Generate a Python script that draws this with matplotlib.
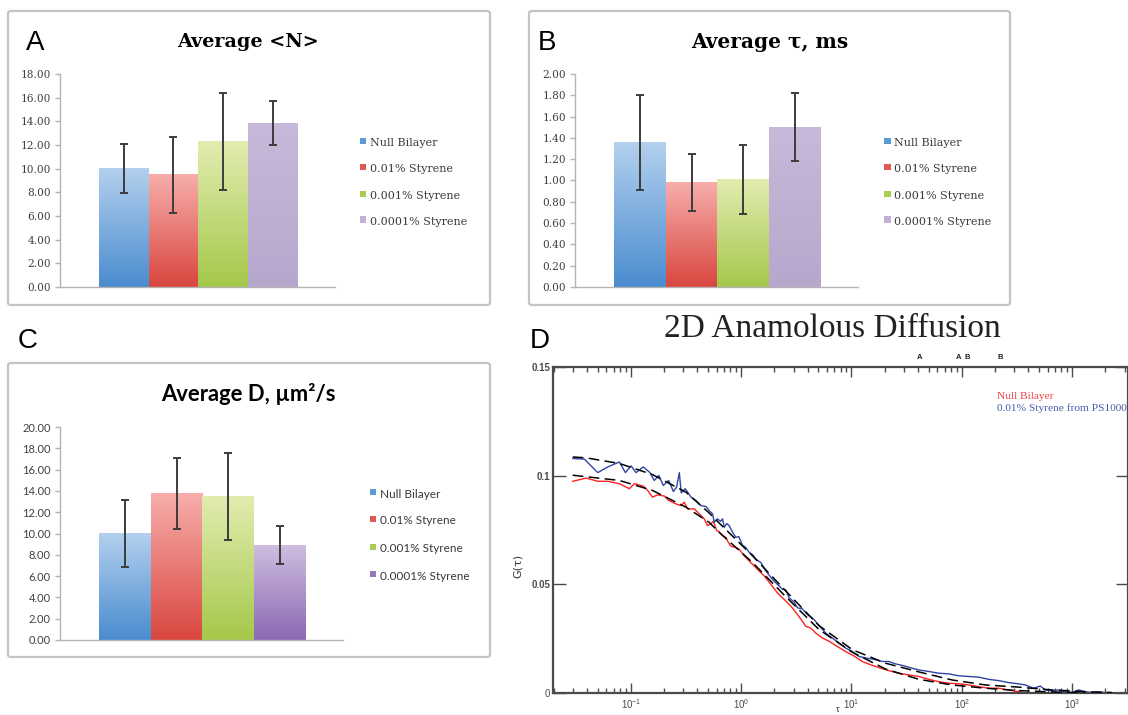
import numpy as np
import matplotlib
matplotlib.use('Agg')
import matplotlib.pyplot as plt
from matplotlib.colors import LinearSegmentedColormap
from matplotlib.patches import Rectangle, FancyBboxPatch
from matplotlib.transforms import blended_transform_factory
from matplotlib.ticker import FixedLocator, LogLocator, NullFormatter, FormatStrFormatter

W, H = 1128, 715

# ---------------- data ----------------
groups = ['Null Bilayer', '0.01% Styrene', '0.001% Styrene', '0.0001% Styrene']
N_mean = [10.0, 9.48, 12.3, 13.85]
N_err = [2.05, 3.2, 4.1, 1.85]
tau_mean = [1.36, 0.98, 1.01, 1.50]
tau_err = [0.445, 0.265, 0.325, 0.32]
D_mean = [10.0, 13.75, 13.45, 8.9]
D_err = [3.1, 3.3, 4.1, 1.8]

blue_tau = [0.0297, 0.0379, 0.0501, 0.0617, 0.0787, 0.0892, 0.1004, 0.1114, 0.1297, 0.149,
            0.163, 0.179, 0.197, 0.220, 0.243, 0.260, 0.275, 0.286, 0.311, 0.351,
            0.389, 0.432, 0.480, 0.513, 0.550, 0.570, 0.611, 0.650, 0.678, 0.702,
            0.740, 0.778, 0.834, 0.895, 0.950, 1.028, 1.10, 1.181, 1.27, 1.358,
            1.507, 1.672, 1.92, 2.13, 2.37, 2.54, 2.72, 3.0, 3.24, 3.59,
            3.98, 4.58, 5.08, 5.84, 6.70, 7.71, 8.85, 10.2, 11.7, 13.9,
            16.6, 19.0, 21.8, 25.1, 29.9, 35.5, 40.8, 50.3, 61.9, 76.3,
            94, 116, 142, 175, 216, 266, 328, 377, 448, 515,
            571, 657, 755, 867, 996, 1145, 1316, 1511, 1738, 1995, 2460]
blue_G = [0.1079, 0.1076, 0.1014, 0.1040, 0.1063, 0.1014, 0.1045, 0.1014, 0.1040, 0.1014,
          0.0978, 0.1001, 0.0955, 0.0978, 0.0927, 0.0948, 0.1014, 0.0921, 0.0940, 0.0901,
          0.0886, 0.0862, 0.0858, 0.0839, 0.0824, 0.0786, 0.0801, 0.0790, 0.0801, 0.0762,
          0.0780, 0.0770, 0.0740, 0.0716, 0.0720, 0.0680, 0.0670, 0.0647, 0.0636, 0.0616,
          0.0600, 0.0562, 0.0523, 0.0500, 0.0477, 0.0474, 0.0438, 0.0420, 0.0392, 0.0387,
          0.0361, 0.0338, 0.0310, 0.0276, 0.0253, 0.0230, 0.0207, 0.0191, 0.0168, 0.0160,
          0.0153, 0.0145, 0.0145, 0.0134, 0.0125, 0.0114, 0.0106, 0.0099, 0.0091, 0.0088,
          0.0079, 0.0076, 0.0073, 0.0063, 0.0057, 0.0048, 0.0042, 0.0037, 0.0022, 0.0032,
          0.0014, 0.0011, 0.0014, 0.0006, 0.0002, 0.0014, 0.0006, 0.0002, 0.0005, 0.0002, 0.0000]

red_tau = [0.0297, 0.0393, 0.0501, 0.0617, 0.0787, 0.0969, 0.1076, 0.1297, 0.142, 0.157,
           0.175, 0.201, 0.220, 0.256, 0.285, 0.305, 0.327, 0.376, 0.417, 0.463,
           0.495, 0.530, 0.560, 0.600, 0.632, 0.678, 0.727, 0.752, 0.807, 0.895,
           0.959, 1.064, 1.224, 1.406, 1.615, 1.856, 2.13, 2.45, 2.82, 3.24,
           3.59, 3.85, 4.27, 4.74, 5.45, 6.26, 7.44, 8.85, 10.5, 12.5,
           14.9, 17.7, 21.8, 26.9, 33.1, 40.8, 50.3, 61.9, 76.3, 94,
           116, 142, 175, 216, 266, 328, 377, 448, 571, 755, 900, 1100]
red_G = [0.0974, 0.0989, 0.0974, 0.0974, 0.0963, 0.0940, 0.0963, 0.0952, 0.0932, 0.0901,
         0.0912, 0.0906, 0.0886, 0.0870, 0.0862, 0.0878, 0.0847, 0.0847, 0.0824, 0.0801,
         0.0770, 0.0778, 0.0790, 0.0747, 0.0742, 0.0724, 0.0716, 0.0700, 0.0675, 0.0670,
         0.0662, 0.0631, 0.0600, 0.0569, 0.0539, 0.0500, 0.0461, 0.0431, 0.0400, 0.0361,
         0.0330, 0.0307, 0.0299, 0.0276, 0.0253, 0.0238, 0.0214, 0.0191, 0.0171, 0.0145,
         0.0130, 0.0117, 0.0103, 0.0091, 0.0083, 0.0076, 0.0063, 0.0052, 0.0045, 0.0042,
         0.0037, 0.0029, 0.0022, 0.0022, 0.0014, 0.0006, 0.0000, 0.0000, 0.0000, -0.0003, 0.0002, 0.0000]

fitB_tau = [0.0297, 0.0393, 0.0787, 0.157, 0.316, 0.513, 0.632, 1.27, 2.54, 5.08,
            10.2, 20.4, 40.8, 81.7, 164, 328, 657, 1316, 2290]
fitB_G = [0.1086, 0.1082, 0.1056, 0.1005, 0.0924, 0.0828, 0.0782, 0.0631, 0.0469, 0.0310,
          0.0199, 0.0137, 0.0097, 0.0060, 0.0037, 0.0027, 0.0014, 0.0006, 0.0002]
fitR_tau = [0.0297, 0.0787, 0.157, 0.316, 0.513, 0.632, 1.27, 2.54, 5.08, 10.2,
            20.4, 40.8, 81.7, 164, 328, 657, 1316]
fitR_G = [0.1002, 0.0978, 0.0932, 0.0855, 0.0785, 0.0739, 0.0600, 0.0443, 0.0292, 0.0187,
          0.0110, 0.0063, 0.0037, 0.0022, 0.0011, 0.0005, 0.0000]

annot_tau = [41.7, 94, 111, 221]
annot_txt = ['A', 'A', 'B', 'B']

# ---------------- helpers ----------------
def axrect(l, t, r, b):
    return [l / W, 1 - b / H, (r - l) / W, (b - t) / H]

def fx(px):
    return px / W

def fy(py):
    return 1 - py / H

fig = plt.figure(figsize=(W / 100, H / 100), dpi=100)
fig.patch.set_facecolor('white')

def box(l, t, r, b):
    p = FancyBboxPatch((fx(l), fy(b)), (r - l) / W, (b - t) / H,
                       boxstyle='round,pad=0,rounding_size=0.003',
                       transform=fig.transFigure, facecolor='none',
                       edgecolor='#c4c4c4', linewidth=1.6, zorder=-5)
    fig.patches.append(p)

grads_ab = [('#4a8ccf', '#b3d0ee'), ('#d9463f', '#f7aeab'),
            ('#a4c84a', '#e2ecb0'), ('#b8a7cd', '#c7b9d9')]
grads_c = [('#4a8ccf', '#b3d0ee'), ('#d9463f', '#f7aeab'),
           ('#a4c84a', '#e2ecb0'), ('#8a69b3', '#cfbde0')]
leg_ab = ['#5b9bd5', '#e2574f', '#a9cc51', '#bfb0d4']
leg_c = ['#5b9bd5', '#e2574f', '#a9cc51', '#9677bf']

def bar_panel(rect, means, errs, ymax, ystep, xl, grads, tickfont, ticksize):
    ax = fig.add_axes(axrect(*rect))
    x = np.arange(len(means))
    bars = ax.bar(x, means, width=1.0, color=[g[0] for g in grads], zorder=1)
    grad = np.linspace(0, 1, 256).reshape(-1, 1)
    for p, (c0, c1) in zip(bars, grads):
        cmap = LinearSegmentedColormap.from_list('g', [c0, c1])
        ax.imshow(grad, extent=(p.get_x(), p.get_x() + p.get_width(), 0, p.get_height()),
                  origin='lower', aspect='auto', cmap=cmap, zorder=2)
    ax.errorbar(x, means, yerr=errs, fmt='none', ecolor='#3c3c3c', elinewidth=1.4,
                capsize=3.2, capthick=1.4, zorder=3)
    ax.set_xlim(*xl)
    ax.set_ylim(0, ymax)
    ax.set_yticks(np.arange(0, ymax + ystep / 2, ystep))
    ax.yaxis.set_major_formatter(FormatStrFormatter('%.2f'))
    ax.set_xticks([])
    for s in ['top', 'right']:
        ax.spines[s].set_visible(False)
    for s in ['left', 'bottom']:
        ax.spines[s].set_color('#b4b4b4')
        ax.spines[s].set_linewidth(1.0)
    ax.tick_params(axis='y', length=3.5, width=1.0, color='#b4b4b4', labelcolor='#404040',
                   labelsize=ticksize, pad=3)
    for lab in ax.get_yticklabels():
        lab.set_family(tickfont)
    ax.set_facecolor('none')
    return ax

def legend(x_sq, x_txt, ys, colors, font, size):
    for lab, c, y in zip(groups, colors, ys):
        fig.patches.append(Rectangle((fx(x_sq), fy(y + 1)), 6.5 / W, 6.5 / H,
                                     transform=fig.transFigure, facecolor=c,
                                     edgecolor='none', zorder=5))
        fig.text(fx(x_txt), fy(y), lab, ha='left', va='center', family=font,
                 size=size, color='#3a3a3a')

# ---------------- panel boxes ----------------
box(8, 11, 490, 305)
box(529, 11, 1010, 305)
box(8, 363, 490, 657)

# ---------------- Panel A ----------------
bar_panel((60, 74, 335, 287), N_mean, N_err, 18, 2, (-1.28, 4.25), grads_ab,
          'DejaVu Serif', 7.6)
fig.text(fx(248), fy(42), 'Average <N>', ha='center', va='center',
         family='DejaVu Serif', weight='bold', size=13.8)
legend(360, 370, [143, 169, 196, 222], leg_ab, 'DejaVu Serif', 8)
fig.text(fx(35), fy(43), 'A', ha='center', va='center', family='Liberation Sans', size=20)

# ---------------- Panel B ----------------
bar_panel((575, 74, 858, 287), tau_mean, tau_err, 2.0, 0.2, (-1.254, 4.216), grads_ab,
          'DejaVu Serif', 7.6)
fig.text(fx(770), fy(42), 'Average τ, ms', ha='center', va='center',
         family='DejaVu Serif', weight='bold', size=14.5)
legend(884, 894, [143, 169, 196, 222], leg_ab, 'DejaVu Serif', 8)
fig.text(fx(547), fy(43), 'B', ha='center', va='center', family='Liberation Sans', size=20)

# ---------------- Panel C ----------------
bar_panel((60, 427, 343, 640), D_mean, D_err, 20, 2, (-1.254, 4.216), grads_c,
          'Lato', 8)
fig.text(fx(248), fy(394), 'Average D, µm²/s', ha='center', va='center',
         family=['Lato', 'DejaVu Sans'], weight='bold', size=15.8)
legend(370, 380, [494, 521, 549, 576], leg_c, 'Lato', 8.5)
fig.text(fx(28), fy(341), 'C', ha='center', va='center', family='Liberation Sans', size=20)

# ---------------- Panel D ----------------
axd = fig.add_axes(axrect(553, 367, 1128, 693))
axd.plot(red_tau, red_G, color='#ff2020', lw=1.0, zorder=2)
axd.plot(blue_tau, blue_G, color='#2f45a6', lw=1.0, zorder=2)
axd.plot(fitB_tau, fitB_G, color='black', lw=1.1, ls=(0, (7, 3.5)), zorder=3)
axd.plot(fitR_tau, fitR_G, color='black', lw=1.1, ls=(0, (7, 3.5)), zorder=3)
axd.set_xscale('log')
axd.set_xlim(10 ** -1.706, 10 ** 3.507)
axd.set_ylim(0, 0.15)
axd.xaxis.set_major_locator(LogLocator(base=10, numticks=20))
axd.xaxis.set_minor_locator(LogLocator(base=10, subs=np.arange(2, 10), numticks=50))
axd.xaxis.set_minor_formatter(NullFormatter())
axd.set_yticks([0, 0.05, 0.1, 0.15])
axd.set_yticklabels(['0', '0.05', '0.1', '0.15'])
for lab in axd.get_yticklabels()[1:]:
    lab.set_fontweight('bold')
for s in axd.spines.values():
    s.set_color('#4a4a4a')
    s.set_linewidth(1.6)
axd.tick_params(which='both', direction='in', top=True, right=True, color='#4a4a4a',
                labelcolor='#4a4a4a', width=1.0, labelsize=7)
axd.tick_params(which='major', length=7)
axd.tick_params(which='minor', length=3.5)
axd.tick_params(axis='y', which='major', length=9, pad=2)
axd.tick_params(axis='x', which='major', pad=3)
for lab in axd.get_yticklabels() + axd.get_xticklabels():
    lab.set_family('Liberation Sans')
axd.set_ylabel('G(τ)', fontsize=8, color='#333333')
axd.yaxis.set_label_coords(-0.052, 0.39)
fig.text(fx(838), fy(710), 'τ', ha='center', va='center', fontsize=6.5, color='#333333',
         family='Liberation Sans')

trans = blended_transform_factory(axd.transData, axd.transAxes)
for t, s in zip(annot_tau, annot_txt):
    axd.text(t, 1.018, s, transform=trans, ha='center', va='bottom', fontsize=5.5,
             fontweight='bold', family='Liberation Sans', color='#222222')

axd.text(0.772, 0.908, 'Null Bilayer', transform=axd.transAxes, ha='left', va='center',
         family='Liberation Serif', size=8.2, color='#f04040')
axd.text(0.772, 0.874, '0.01% Styrene from PS1000', transform=axd.transAxes, ha='left',
         va='center', family='Liberation Serif', size=8.2, color='#4a5aaa')

fig.text(fx(832), fy(329), '2D Anamolous Diffusion', ha='center', va='center',
         family='Liberation Serif', size=24, color='#222222')
fig.text(fx(540), fy(341), 'D', ha='center', va='center', family='Liberation Sans', size=20)

fig.savefig('out.png', dpi=100)
